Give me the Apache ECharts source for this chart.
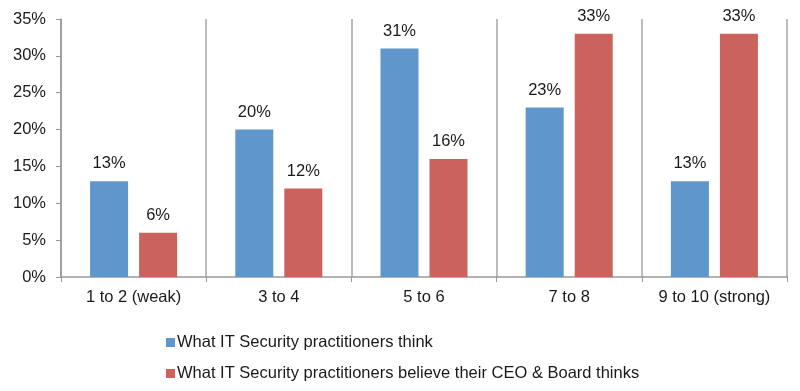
<!DOCTYPE html>
<html><head><meta charset="utf-8">
<script src="https://cdn.jsdelivr.net/npm/echarts@6/dist/echarts.min.js"></script>
<style>html,body{margin:0;padding:0;background:#fff}#c{width:800px;height:391px}</style>
</head><body><div id="c"></div>
<script>
const categories = ['1 to 2 (weak)', '3 to 4', '5 to 6', '7 to 8', '9 to 10 (strong)'];
const seriesNames = ['What IT Security practitioners think', 'What IT Security practitioners believe their CEO & Board thinks'];
const practitioners = [13, 20, 31, 23, 13];
const ceoBoard = [6, 12, 16, 33, 33];
const yTicks = [0, 5, 10, 15, 20, 25, 30, 35];

const chart = echarts.init(document.getElementById('c'), null, {renderer: 'canvas'});
const font = 'Liberation Sans, Arial, sans-serif';
const fs = 16.5;
const lbl = {show: true, position: 'top', distance: 9, formatter: p => p.value + '%', color: '#1a1a1a', fontSize: fs, fontFamily: font};
chart.setOption({
  animation: false,
  grid: {left: 61, right: 13, top: 19, bottom: 114},
  legend: {
    orient: 'vertical', left: 161, top: 329, itemWidth: 9, itemHeight: 9, itemGap: 14,
    icon: 'rect',
    textStyle: {fontSize: fs, fontFamily: font, color: '#1a1a1a', padding: [0, 0, 0, -3]},
    data: seriesNames
  },
  xAxis: {
    type: 'category', data: categories,
    axisLine: {lineStyle: {color: '#999', width: 1.5}},
    axisTick: {show: true, interval: 0, alignWithLabel: false, length: 5, lineStyle: {color: '#999'}},
    axisLabel: {interval: 0, fontSize: fs, fontFamily: font, color: '#1a1a1a', margin: 12},
    splitLine: {show: true, interval: 0, lineStyle: {color: '#a6a6a6', width: 1.5}}
  },
  yAxis: {
    type: 'value', min: 0, max: 35, interval: 5,
    axisLine: {show: true, lineStyle: {color: '#999', width: 1.5}},
    axisTick: {show: true, length: 5, lineStyle: {color: '#999'}},
    axisLabel: {fontSize: fs, fontFamily: font, color: '#1a1a1a', margin: 15,
      formatter: v => yTicks.includes(v) ? v + '%' : ''},
    splitLine: {show: false}
  },
  series: [
    {name: seriesNames[0], type: 'bar', data: practitioners, barWidth: 38, barGap: '29%',
     itemStyle: {color: '#5f96cb'}, label: lbl},
    {name: seriesNames[1], type: 'bar', data: ceoBoard, barWidth: 38,
     itemStyle: {color: '#cb625d'}, label: lbl}
  ]
});
</script></body></html>
